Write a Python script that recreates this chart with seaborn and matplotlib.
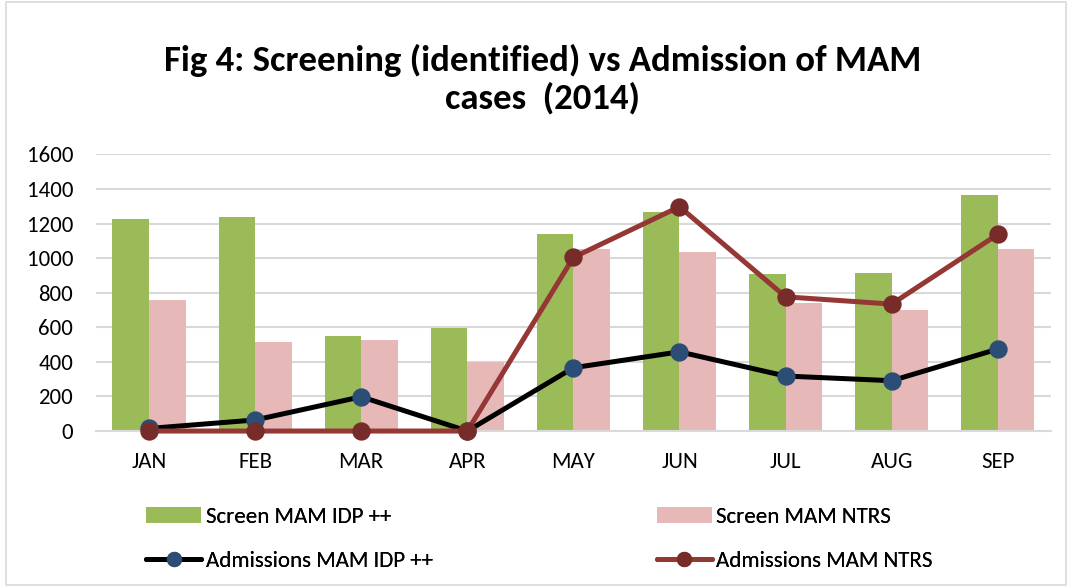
import matplotlib
matplotlib.use("Agg")
import matplotlib.pyplot as plt
from matplotlib.lines import Line2D
from matplotlib.patches import Patch, Rectangle
from matplotlib import font_manager
import seaborn as sns
import pandas as pd

months = ["JAN", "FEB", "MAR", "APR", "MAY", "JUN", "JUL", "AUG", "SEP"]
screen_idp = [1225, 1235, 551, 594, 1139, 1268, 907, 913, 1362]
screen_ntrs = [755, 513, 528, 397, 1054, 1035, 738, 699, 1054]
adm_idp = [15, 64, 198, 0, 366, 458, 318, 291, 474]
adm_ntrs = [0, 0, 0, 0, 1004, 1297, 776, 734, 1137]
series_names = ["Screen MAM IDP ++", "Screen MAM NTRS", "Admissions MAM IDP ++", "Admissions MAM NTRS"]
title = "Fig 4: Screening (identified) vs Admission of MAM\ncases  (2014)"
yticks = [0, 200, 400, 600, 800, 1000, 1200, 1400, 1600]

C_GREEN = "#9BBB59"
C_PINK = "#E6B9B8"
C_BLACK = "#000000"
C_NAVY = "#2C4D75"
C_RED = "#953735"
C_DRED = "#772C2A"

sns.set_theme(style="white")
avail = {f.name for f in font_manager.fontManager.ttflist}


def pick(cands, default="DejaVu Sans"):
    for c in cands:
        if c in avail:
            return c
    return default


base_font = pick(["Carlito", "Lato"])
plt.rcParams["font.family"] = [base_font, "DejaVu Sans"]
plt.rcParams["text.color"] = "black"
plt.rcParams["xtick.color"] = "black"
plt.rcParams["ytick.color"] = "black"
plt.rcParams["xtick.labelcolor"] = "black"
plt.rcParams["ytick.labelcolor"] = "black"

fig = plt.figure(figsize=(10.68, 5.87), dpi=100)
fig.patches.append(Rectangle((0.006, 0.003), 0.992, 0.994, transform=fig.transFigure,
                             fill=False, edgecolor="#d9d9d9", linewidth=1.2))
ax = fig.add_axes([0.0899, 0.2657, 0.894, 0.4714])

df = pd.DataFrame({
    "month": months * 2,
    "value": screen_idp + screen_ntrs,
    "series": [series_names[0]] * len(months) + [series_names[1]] * len(months),
})
sns.barplot(data=df, x="month", y="value", hue="series", order=months,
            palette=[C_GREEN, C_PINK], width=0.69, gap=0, ax=ax, legend=False,
            saturation=1, linewidth=0)

lines_df = pd.DataFrame({"month": months, "idp": adm_idp, "ntrs": adm_ntrs})
sns.pointplot(data=lines_df, x="month", y="idp", order=months, color=C_BLACK,
              errorbar=None, ax=ax, linewidth=3.6, markersize=10.5)
ln = ax.lines[-1]
ln.set_markerfacecolor(C_NAVY); ln.set_markeredgecolor(C_NAVY)
ln.set_zorder(5); ln.set_clip_on(False)
sns.pointplot(data=lines_df, x="month", y="ntrs", order=months, color=C_RED,
              errorbar=None, ax=ax, linewidth=3.6, markersize=10.5)
ln = ax.lines[-1]
ln.set_markerfacecolor(C_DRED); ln.set_markeredgecolor(C_DRED)
ln.set_zorder(6); ln.set_clip_on(False)

ax.set_xlim(-0.5, len(months) - 0.5)
ax.set_ylim(0, 1600)
ax.set_yticks(yticks)
ax.set_yticklabels([str(v) for v in yticks], fontsize=16.5, color="black")
ax.set_xticks(range(len(months)))
ax.set_xticklabels(months, fontsize=16.5, color="black")
ax.tick_params(axis="both", length=0)
ax.tick_params(axis="x", pad=15)
ax.tick_params(axis="y", pad=16.5)
ax.set_xlabel(""); ax.set_ylabel("")
ax.yaxis.grid(True, color="#d9d9d9", linewidth=1.5)
ax.set_axisbelow(True)
for s in ["top", "right", "left"]:
    ax.spines[s].set_visible(False)
ax.spines["bottom"].set_color("#d9d9d9")
ax.spines["bottom"].set_linewidth(1.5)

fig.text(0.508, 0.865, title, ha="center", va="center", fontsize=26.5,
         fontweight="bold", linespacing=1.2, color="black")

h1 = [Patch(facecolor=C_GREEN, edgecolor="none"),
      Line2D([0], [0], color=C_BLACK, lw=3.6, marker="o", markersize=10,
             markerfacecolor=C_NAVY, markeredgecolor=C_NAVY)]
h2 = [Patch(facecolor=C_PINK, edgecolor="none"),
      Line2D([0], [0], color=C_RED, lw=3.6, marker="o", markersize=10,
             markerfacecolor=C_DRED, markeredgecolor=C_DRED)]
for handles, labels, x0 in [(h1, [series_names[0], series_names[2]], 0.137),
                            (h2, [series_names[1], series_names[3]], 0.615)]:
    leg = fig.legend(handles, labels, loc="upper left", bbox_to_anchor=(x0, 0.137),
                     frameon=False, ncol=1, handlelength=2.4, handletextpad=0.2,
                     labelspacing=1.08, borderpad=0, borderaxespad=0,
                     labelcolor="black",
                     prop={"family": [base_font, "DejaVu Sans"], "size": 16.5})
    fig.add_artist(leg)

fig.savefig("out.png", dpi=100)
